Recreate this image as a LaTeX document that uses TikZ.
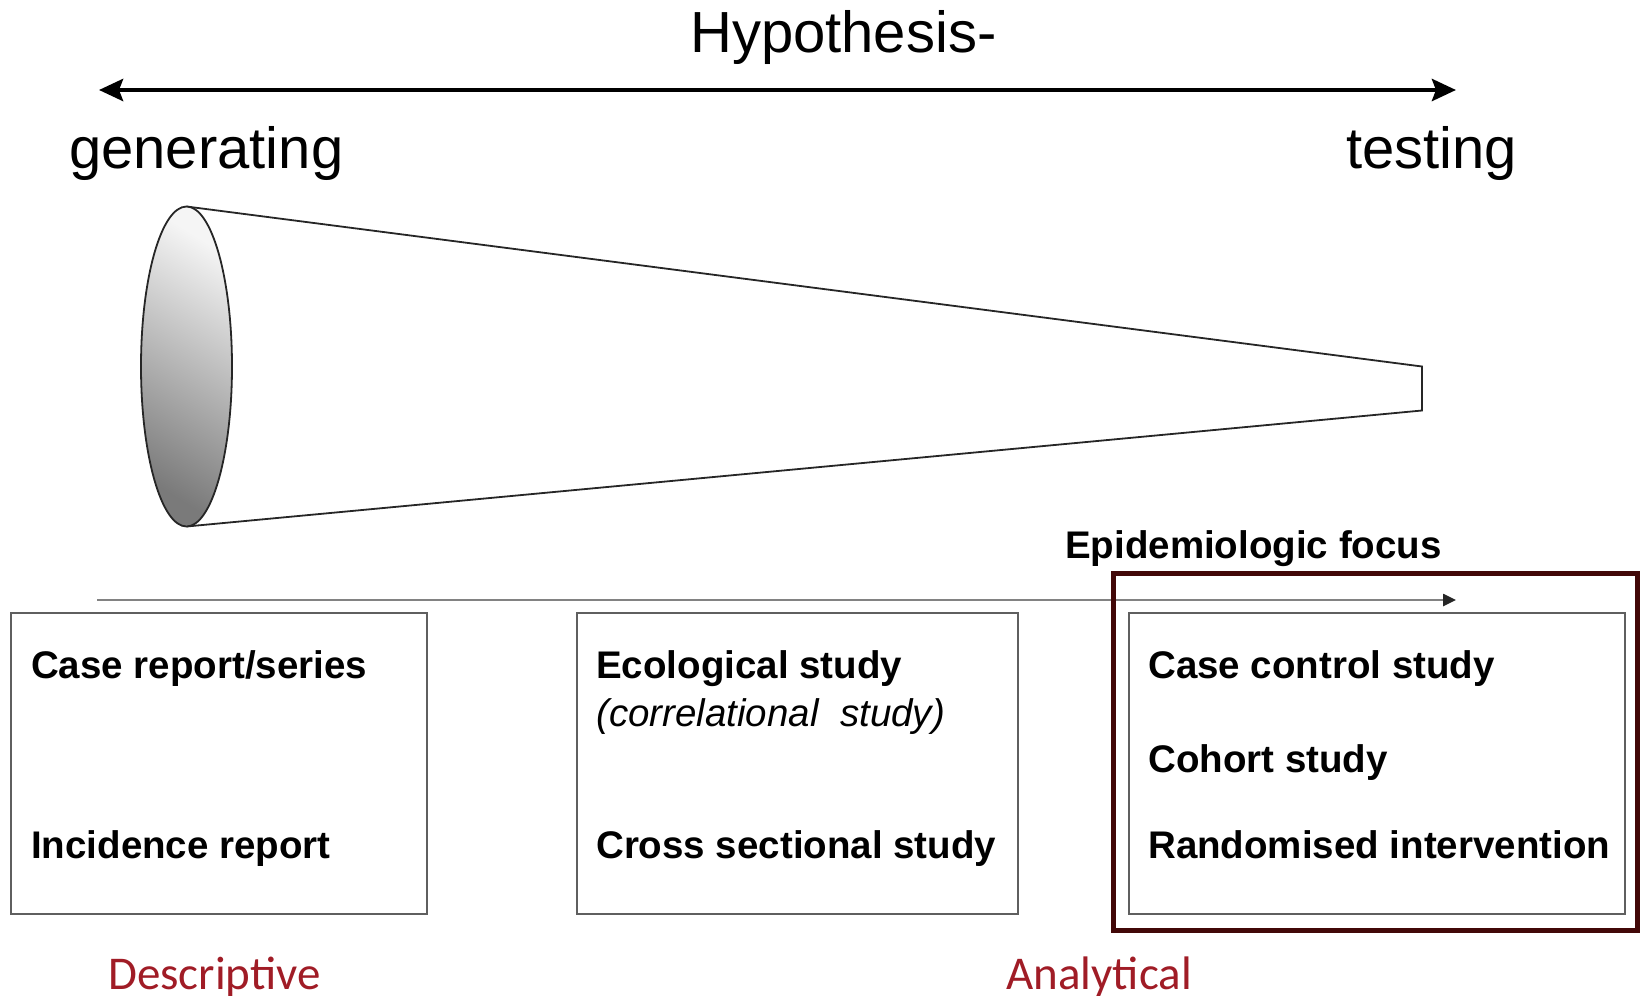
\documentclass[tikz,border=0pt]{standalone}
\usepackage{fontspec}
\setmainfont{Liberation Sans}
\newfontfamily\calib{Carlito}
\usetikzlibrary{arrows.meta}
\definecolor{framered}{RGB}{66,8,8}
\definecolor{labred}{RGB}{160,28,38}
\definecolor{boxgray}{RGB}{95,95,95}
\definecolor{axisgray}{RGB}{130,130,130}
\begin{document}
\begin{tikzpicture}[x=1pt,y=-1pt,
  bigtxt/.style={font=\fontsize{58}{60}\selectfont, anchor=base west, inner sep=0pt},
  boxtxt/.style={font=\fontsize{38.5}{40}\selectfont\bfseries, anchor=base west, inner sep=0pt},
  ittxt/.style={font=\fontsize{38.5}{40}\selectfont\itshape, anchor=base west, inner sep=0pt},
  cattxt/.style={font=\calib\fontsize{47}{49}\selectfont, text=labred, anchor=base west, inner sep=0pt},
  studybox/.style={draw=boxgray, line width=2pt, inner sep=0pt, outer sep=0pt},
  conestroke/.style={draw=black!85, line width=1.8pt},
]
\useasboundingbox (0,0) rectangle (1642,996);

% top labels and double arrow
\node[bigtxt] (hyp) at (690,52) {Hypothesis-};
\coordinate (tl) at (99,90);
\coordinate (tr) at (1456,90);
\draw[line width=4.5pt, {Stealth[length=24pt,width=22pt,inset=4pt]}-{Stealth[length=24pt,width=22pt,inset=4pt]}] (tl) -- (tr);
\node[bigtxt] (gen) at (69,168) {generating};
\node[bigtxt] (test) at (1346,168) {testing};

% cone
\coordinate (ec) at (186.5,366.5);
\coordinate (et) at (186.5,206.5);
\coordinate (eb) at (186.5,526.5);
\coordinate (rt) at (1422,366.5);
\coordinate (rb) at (1422,410.5);
\draw[conestroke, line join=miter] (et) -- (rt) -- (rb) -- (eb);
\shade[top color=white!96!black, bottom color=black!52, shading angle=-32]
  (ec) ellipse [x radius=45.5pt, y radius=160pt];
\draw[conestroke] (ec) ellipse [x radius=45.5pt, y radius=160pt];

% epidemiologic focus
\node[boxtxt] (focus) at (1065,558) {Epidemiologic focus};
\coordinate (al) at (97,600);
\coordinate (ar) at (1456,600);
\draw[axisgray, line width=2.5pt, -{Triangle[length=13pt,width=12pt,color=black!85]}] (al) -- (ar);

% boxes
\node[studybox, minimum width=416.5pt, minimum height=301.5pt, anchor=north west] (b1) at (10.5,612.5) {};
\node[studybox, minimum width=441pt, minimum height=301.5pt, anchor=north west] (b2) at (577,612.5) {};
\node[studybox, minimum width=496pt, minimum height=301.5pt, anchor=north west] (b3) at (1129,612.5) {};

\node[boxtxt] (t11) at (31,678) {Case report/series};
\node[boxtxt] (t12) at (31,858) {Incidence report};
\node[boxtxt] (t21) at (596,678) {Ecological study};
\node[ittxt] (t22) at (596,726) {(correlational\ \ study)};
\node[boxtxt] (t23) at (596,858) {Cross sectional study};
\node[boxtxt] (t31) at (1148,678) {Case control study};
\node[boxtxt] (t32) at (1148,772) {Cohort study};
\node[boxtxt] (t33) at (1148,858) {Randomised intervention};

% analytical frame
\node[draw=framered, line width=5pt, minimum width=524pt, minimum height=357pt, inner sep=0pt, outer sep=0pt, anchor=north west] (frame) at (1113.5,573.5) {};

% category labels
\node[cattxt] (desc) at (108,989) {Descriptive};
\node[cattxt] (anal) at (1006,989) {Analytical};
\end{tikzpicture}
\end{document}
